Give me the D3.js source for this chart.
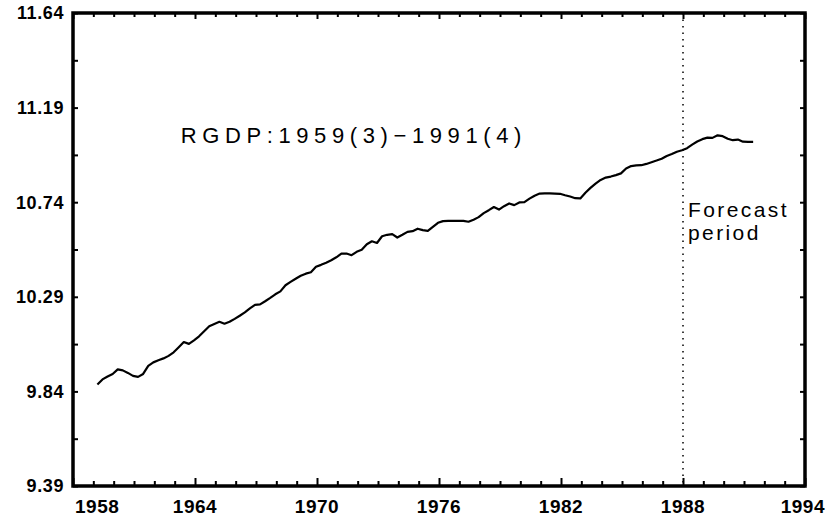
<!DOCTYPE html>
<html><head><meta charset="utf-8">
<script src="https://cdn.jsdelivr.net/npm/d3@7"></script>
<style>body{margin:0;background:#fff}svg{display:block}</style>
</head><body><svg id="c" width="826" height="522"></svg>
<script>
// ---- data ----
const seriesTitle = "RGDP:1959(3)\u22121991(4)";
const firstQuarterPos = 1959.2;   // plotted position of 1959(3)
const rgdp = [
 9.873, 9.897, 9.911, 9.923, 9.945, 9.940, 9.928, 9.914, 9.909, 9.923,
 9.961, 9.978, 9.988, 9.997, 10.009, 10.026, 10.050, 10.075, 10.066, 10.083,
 10.102, 10.126, 10.150, 10.161, 10.171, 10.162, 10.171, 10.185, 10.200, 10.216,
 10.235, 10.252, 10.254, 10.269, 10.285, 10.302, 10.316, 10.345, 10.361, 10.376,
 10.390, 10.400, 10.407, 10.433, 10.442, 10.452, 10.464, 10.478, 10.495, 10.496,
 10.488, 10.504, 10.514, 10.540, 10.554, 10.546, 10.578, 10.585, 10.588, 10.572,
 10.585, 10.599, 10.602, 10.614, 10.607, 10.604, 10.623, 10.642, 10.650, 10.651,
 10.651, 10.651, 10.651, 10.647, 10.657, 10.669, 10.688, 10.702, 10.717, 10.705,
 10.721, 10.734, 10.726, 10.739, 10.740, 10.757, 10.771, 10.781, 10.782, 10.782,
 10.781, 10.780, 10.773, 10.767, 10.759, 10.758, 10.785, 10.808, 10.828, 10.846,
 10.857, 10.862, 10.869, 10.877, 10.900, 10.912, 10.915, 10.916, 10.922, 10.930,
 10.938, 10.947, 10.960, 10.969, 10.980, 10.987, 10.997, 11.014, 11.029, 11.040,
 11.047, 11.046, 11.058, 11.054, 11.042, 11.035, 11.038, 11.028, 11.027, 11.027
];
const xDomain = [1958, 1994];
const xLabelYears = [1958, 1964, 1970, 1976, 1982, 1988, 1994];
const yTickValues = [9.39, 9.84, 10.29, 10.74, 11.19, 11.64];
const forecastStart = 1988;
const forecastLines = ["Forecast", "period"];

// ---- layout ----
const W = 826, H = 522;
const m = {left: 73, right: 21, top: 13, bottom: 36};
const svg = d3.select("#c");
const x = d3.scaleLinear().domain(xDomain).range([m.left, W - m.right]);
const y = d3.scaleLinear().domain([yTickValues[0], yTickValues[yTickValues.length - 1]]).range([H - m.bottom, m.top]);
const x0 = x.range()[0], x1 = x.range()[1], yB = y.range()[0], yT = y.range()[1];

const yearTicks = d3.range(xDomain[0], xDomain[1] + 1);
const yMinor = d3.pairs(yTickValues).map(([a, b]) => (a + b) / 2);
const yAllTicks = yTickValues.concat(yMinor);

// bottom axis ticks (inward)
const gB = svg.append("g").attr("transform", `translate(0,${yB})`)
  .call(d3.axisBottom(x).tickValues(yearTicks).tickSizeInner(-5).tickSizeOuter(0).tickFormat(""));
gB.selectAll(".tick line").attr("stroke-width", 2)
  .attr("y2", d => xLabelYears.includes(d) ? -8 : -5);
// top axis ticks
const gT = svg.append("g").attr("transform", `translate(0,${yT})`)
  .call(d3.axisTop(x).tickValues(yearTicks).tickSizeInner(-4).tickSizeOuter(0).tickFormat(""));
gT.selectAll(".tick line").attr("stroke-width", 2)
  .attr("y2", d => xLabelYears.includes(d) ? 6 : 4);
// left / right ticks
const gL = svg.append("g").attr("transform", `translate(${x0},0)`)
  .call(d3.axisLeft(y).tickValues(yAllTicks).tickSizeInner(-5).tickSizeOuter(0).tickFormat(""));
const gR = svg.append("g").attr("transform", `translate(${x1},0)`)
  .call(d3.axisRight(y).tickValues(yAllTicks).tickSizeInner(-5).tickSizeOuter(0).tickFormat(""));
[gL, gR].forEach(g => g.selectAll(".tick line").attr("stroke-width", 2));
[gB, gT, gL, gR].forEach(g => { g.select(".domain").remove(); g.selectAll(".tick line").attr("stroke", "#000"); });

// frame
svg.append("rect").attr("x", x0).attr("y", yT).attr("width", x1 - x0).attr("height", yB - yT)
  .attr("fill", "none").attr("stroke", "#000").attr("stroke-width", 3.5);

// labels
svg.append("g").selectAll("text").data(yTickValues).join("text")
  .attr("x", x0 - 9).attr("y", d => y(d)).attr("dy", "0.36em")
  .attr("text-anchor", "end").attr("fill", "#000")
  .attr("font-family", "Liberation Sans, Arial, sans-serif").attr("font-weight", "bold")
  .attr("font-size", 18).attr("letter-spacing", 0.6)
  .text(d => d.toFixed(2));
const nX = xLabelYears.length;
svg.append("g").selectAll("text").data(xLabelYears).join("text")
  .attr("x", (d, i) => i === 0 ? x(d) + 2 : (i === nX - 1 ? x(d) + 20 : x(d)))
  .attr("y", yB + 27)
  .attr("text-anchor", (d, i) => i === 0 ? "start" : (i === nX - 1 ? "end" : "middle")).attr("fill", "#000")
  .attr("font-family", "Liberation Sans, Arial, sans-serif").attr("font-weight", "bold")
  .attr("font-size", 19).attr("letter-spacing", 0.5)
  .text(d => d);

// forecast divider
svg.append("line").attr("x1", x(forecastStart)).attr("x2", x(forecastStart))
  .attr("y1", yT).attr("y2", yB)
  .attr("stroke", "#000").attr("stroke-width", 1.5).attr("stroke-dasharray", "1.5,5");

// series line
const line = d3.line().x((d, i) => x(firstQuarterPos + i / 4)).y(d => y(d));
svg.append("path").datum(rgdp).attr("d", line)
  .attr("fill", "none").attr("stroke", "#000").attr("stroke-width", 2.2).attr("stroke-linejoin", "round");

// title
svg.append("text").attr("x", x(1963.3)).attr("y", y(11.02)).attr("fill", "#000")
  .attr("font-family", "Liberation Sans, Arial, sans-serif").attr("font-size", 22)
  .attr("letter-spacing", 5.6).text(seriesTitle);

// forecast annotation
svg.append("g").selectAll("text").data(forecastLines).join("text")
  .attr("x", x(forecastStart) + 5).attr("fill", "#000")
  .attr("y", (d, i) => y(10.74) + 15 + i * 23)
  .attr("font-family", "Liberation Sans, Arial, sans-serif").attr("font-size", 21)
  .attr("letter-spacing", 2.4).text(d => d);
</script></body></html>
